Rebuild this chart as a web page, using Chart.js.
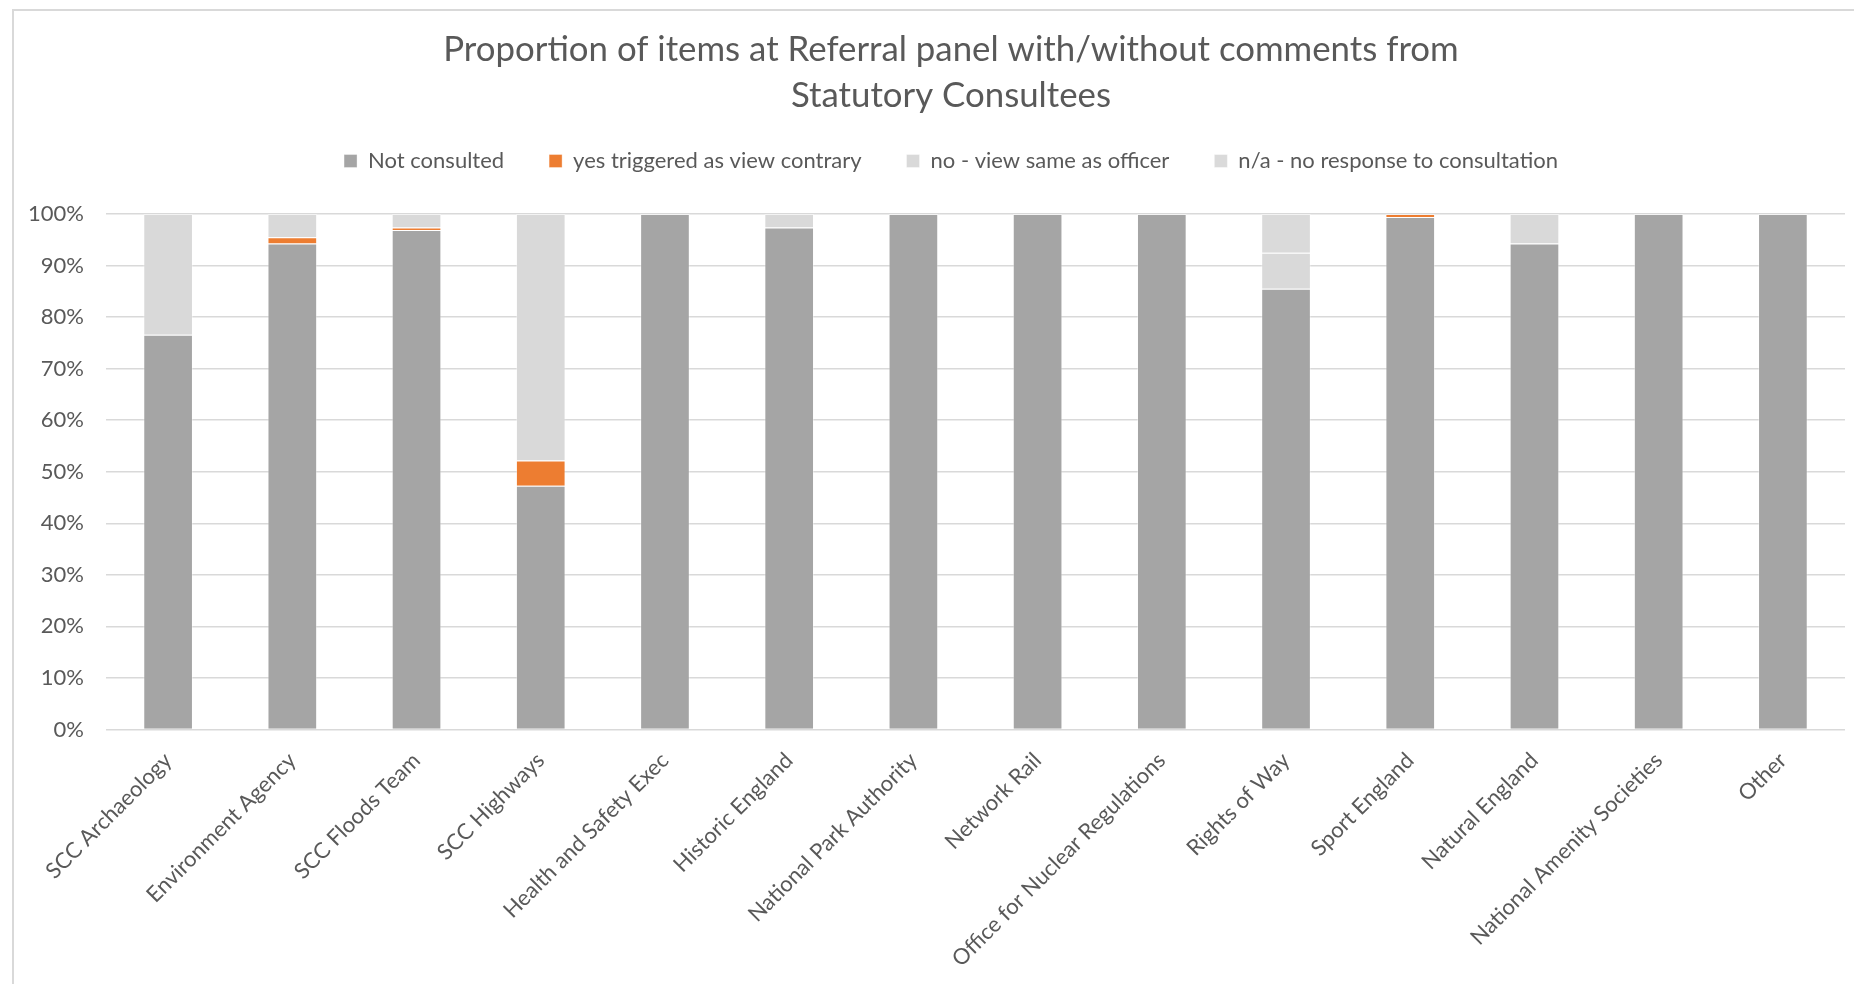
<!DOCTYPE html>
<html>
<head>
<meta charset="utf-8">
<script src="https://cdn.jsdelivr.net/npm/chart.js@4.4.1/dist/chart.umd.min.js"></script>
<style>
  html, body { margin: 0; padding: 0; background: #fff; overflow: hidden; }
  #moldura { position: absolute; left: 12px; top: 9px; width: 1874px; height: 990px;
             border-left: 2px solid #d9d9d9; border-top: 2px solid #d9d9d9; }
  #grafico { display: block; }
</style>
</head>
<body>
<div id="moldura"><canvas id="grafico" width="1874" height="980"></canvas></div>
<script>
const consultees = [
  'SCC Archaeology', 'Environment Agency', 'SCC Floods Team', 'SCC Highways',
  'Health and Safety Exec', 'Historic England', 'National Park Authority', 'Network Rail',
  'Office for Nuclear Regulations', 'Rights of Way', 'Sport England', 'Natural England',
  'National Amenity Societies', 'Other'
];

// percentages (null = no segment)
const notConsulted = [76.6, 94.3, 96.9, 47.3, 100, 97.4, 100, 100, 100, 85.5, 99.4, 94.3, 100, 100];
const yesTriggered = [null, 1.2, 0.5, 4.9, null, null, null, null, null, null, 0.6, null, null, null];
const noViewSame   = [23.4, 4.5, 2.6, 47.8, null, 2.6, null, null, null, 7.0, null, 5.7, null, null];
const noResponse   = [null, null, null, null, null, null, null, null, null, 7.5, null, null, null, null];

const tituloLinhas = ['Proportion of items at Referral panel with/without comments from', 'Statutory Consultees'];

const corTexto = '#595959';
const fonte = 'Lato, "Open Sans", sans-serif';

function serie(label, data, cor) {
  return {
    label: label,
    data: data,
    backgroundColor: cor,
    borderColor: 'rgba(255,255,255,0.35)',
    borderWidth: 1,
    barPercentage: 0.4,
    categoryPercentage: 1
  };
}

const grafico = new Chart(document.getElementById('grafico'), {
  type: 'bar',
  data: {
    labels: consultees,
    datasets: [
      serie('Not consulted', notConsulted, '#a5a5a5'),
      serie('yes triggered as view contrary', yesTriggered, '#ed7d31'),
      serie('no - view same as officer', noViewSame, '#d9d9d9'),
      serie('n/a - no response to consultation', noResponse, '#dadada')
    ]
  },
  options: {
    responsive: false,
    animation: false,
    layout: { padding: 0 },
    plugins: {
      title: {
        display: true,
        text: tituloLinhas,
        color: corTexto,
        font: { family: fonte, size: 34.8, weight: 'normal', lineHeight: '46px' },
        padding: { top: 16, bottom: 19 }
      },
      subtitle: {
        display: true,
        text: '',
        weight: 500,
        font: { size: 1, lineHeight: '1px' },
        padding: { top: 0, bottom: 31 }
      },
      legend: {
        position: 'top',
        labels: {
          color: corTexto,
          font: { family: fonte, size: 22 },
          boxWidth: 13,
          boxHeight: 13,
          padding: 12,
          generateLabels(chart) {
            const itens = Chart.defaults.plugins.legend.labels.generateLabels(chart);
            itens.forEach((item, i) => {
              if (i < itens.length - 1) item.text += '\u2003\u2003';
            });
            return itens;
          }
        }
      },
      tooltip: { enabled: false }
    },
    scales: {
      x: {
        stacked: true,
        grid: { display: false },
        border: { display: false },
        ticks: {
          color: corTexto,
          font: { family: fonte, size: 22 },
          autoSkip: false,
          maxRotation: 45,
          minRotation: 45,
          padding: 10
        },
        afterFit(scale) { scale.height = 261.5; }
      },
      y: {
        stacked: true,
        min: 0,
        max: 100,
        border: { display: false },
        grid: { color: '#d9d9d9', lineWidth: 1.5, drawTicks: false },
        ticks: {
          stepSize: 10,
          color: corTexto,
          font: { family: fonte, size: 22 },
          padding: 22,
          callback: v => v + '%'
        },
        afterFit(scale) { scale.width = 92; }
      },
      // empty right axis, only keeps the margin on the right of the plot
      margem: {
        type: 'linear',
        position: 'right',
        grid: { display: false },
        border: { display: false },
        ticks: { display: false },
        afterFit(scale) { scale.width = 43; }
      }
    }
  }
});
</script>
</body>
</html>
